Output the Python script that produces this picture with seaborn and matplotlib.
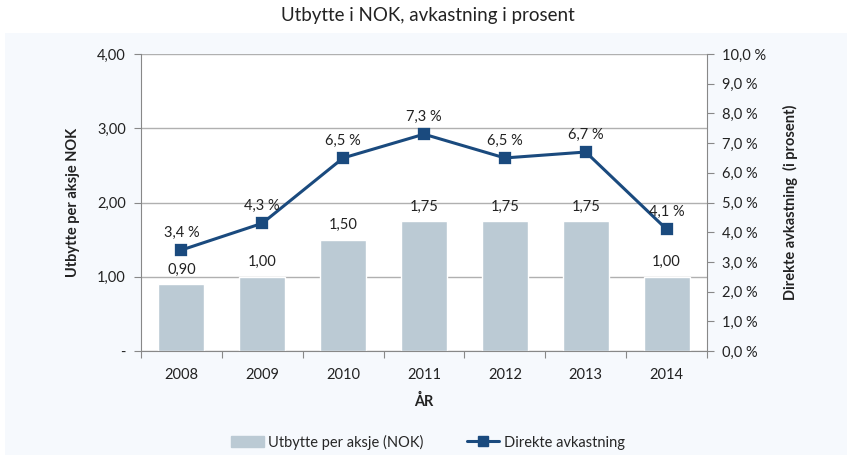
import numpy as np
import pandas as pd
import seaborn as sns
import matplotlib.pyplot as plt
import matplotlib.lines as mlines
import matplotlib.patches as mpatches
from matplotlib.ticker import FuncFormatter, MultipleLocator

years = ["2008", "2009", "2010", "2011", "2012", "2013", "2014"]
utbytte = [0.90, 1.00, 1.50, 1.75, 1.75, 1.75, 1.00]
avkastning = [3.4, 4.3, 6.5, 7.3, 6.5, 6.7, 4.1]

bar_col = "#BBCAD4"
line_col = "#1A4A7E"
txt_col = "#222222"

sns.set_style("white")
plt.rcParams['font.family'] = ['Lato', 'DejaVu Sans']

df = pd.DataFrame({"year": years, "utbytte": utbytte, "avkastning": avkastning})

fig = plt.figure(figsize=(8.56, 4.63), dpi=100)
fig.patch.set_facecolor("white")
# light blue chart panel behind everything
panel = mpatches.Rectangle((5/856, 1-455/463), 842/856, 422/463,
                           transform=fig.transFigure, facecolor="#F6F9FD",
                           edgecolor="none", zorder=-10)
fig.add_artist(panel)

ax = fig.add_axes([141/856, 1-351/463, 566/856, 297/463])
ax.set_facecolor("white")
sns.barplot(data=df, x="year", y="utbytte", color=bar_col, width=0.57,
            saturation=1, ax=ax, zorder=2)
ax.set_ylim(0, 4)
ax.yaxis.set_major_locator(MultipleLocator(1))
ax.yaxis.set_major_formatter(FuncFormatter(lambda v, p: "-" if v == 0 else ("%.2f" % v).replace(".", ",")))
ax.grid(axis="y", color="#B0B0B0", linewidth=1, zorder=0)
ax.set_axisbelow(True)
for i, v in enumerate(utbytte):
    ax.text(i, v + 0.1, ("%.2f" % v).replace(".", ","), ha="center", va="bottom",
            fontsize=10.5, color=txt_col)

ax2 = ax.twinx()
sns.pointplot(data=df, x="year", y="avkastning", color=line_col, markers="s",
              markersize=7, linewidth=2.2, ax=ax2)
ax2.set_ylim(0, 10)
ax2.yaxis.set_major_locator(MultipleLocator(1))
ax2.yaxis.set_major_formatter(FuncFormatter(lambda v, p: ("%.1f %%" % v).replace(".", ",")))
for i, v in enumerate(avkastning):
    ax2.text(i, v + 0.35, ("%.1f %%" % v).replace(".", ","), ha="center", va="bottom",
             fontsize=10.5, color=txt_col)

ax.set_xlim(-0.5, 6.5)
ax.set_xticks(np.arange(-0.5, 7, 1), minor=False)
ax.set_xticklabels([])
ax.set_xticks(range(7), minor=True)
ax.set_xticklabels(years, minor=True)
ax.tick_params(axis="x", which="major", length=5, direction="out", color="#888888", bottom=True)
ax.tick_params(axis="x", which="minor", length=0, pad=12, labelsize=10.5, labelcolor=txt_col)
ax.tick_params(axis="y", length=5, direction="out", color="#888888", left=True, labelsize=10.5,
               labelcolor=txt_col, pad=6)
ax2.tick_params(axis="y", length=5, direction="out", color="#888888", right=True, labelsize=10.5,
                labelcolor=txt_col, pad=6)

for a in (ax, ax2):
    for s in a.spines.values():
        s.set_visible(False)
ax.spines["left"].set_visible(True)
ax.spines["left"].set_color("#888888")
ax.spines["bottom"].set_visible(True)
ax.spines["bottom"].set_color("#888888")
ax2.spines["right"].set_visible(True)
ax2.spines["right"].set_color("#888888")

ax.set_xlabel("ÅR", fontsize=10.5, fontweight="bold", color=txt_col, labelpad=9)
ax.set_ylabel("Utbytte per aksje NOK", fontsize=10.5, fontweight="bold", color=txt_col, labelpad=12)
ax2.set_ylabel("Direkte avkastning  (i prosent)", fontsize=10.5, fontweight="bold",
               color=txt_col, labelpad=12)
ax2.set_xlabel("")

fig.suptitle("Utbytte i NOK, avkastning i prosent", fontsize=13.5, color=txt_col, y=0.985)

legend = [mpatches.Patch(color=bar_col, label="Utbytte per aksje (NOK)"),
          mlines.Line2D([], [], color=line_col, marker="s", markersize=7, linewidth=2.2,
                        label="Direkte avkastning")]
fig.legend(handles=legend, loc="center", bbox_to_anchor=(0.5, 1-442/463), ncol=2,
           frameon=False, fontsize=10.5, handlelength=2.2, columnspacing=3, handletextpad=0.3)

plt.savefig("out.png", dpi=100)
plt.close()
